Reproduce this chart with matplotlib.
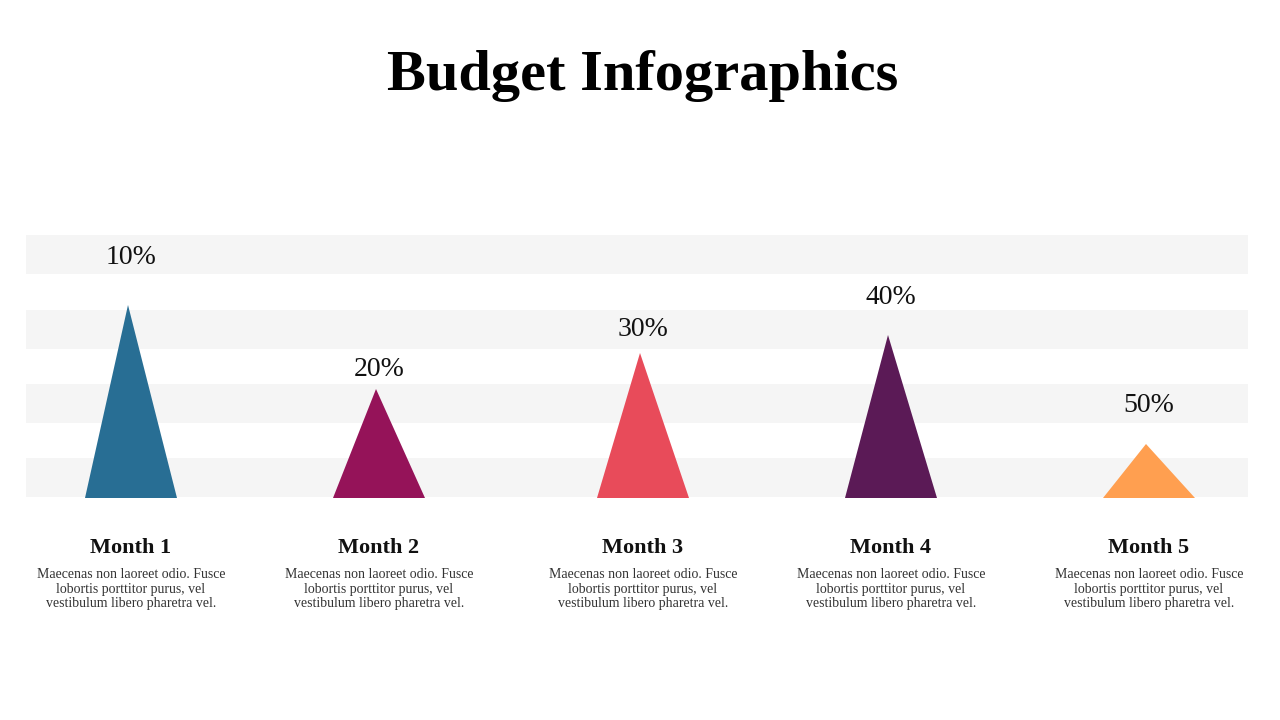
import matplotlib
matplotlib.use("Agg")
import matplotlib.pyplot as plt
from matplotlib.patches import Polygon, Rectangle

# ---- data ----
months = ["Month 1", "Month 2", "Month 3", "Month 4", "Month 5"]
labels = ["10%", "20%", "30%", "40%", "50%"]
heights = [193, 109, 145, 163, 54]          # triangle heights (px units)
label_gap = [50, 22, 25, 40, 40]            # gap of label above apex
colors = ["#286e94", "#951359", "#e84b5a", "#5b1a56", "#ff9f50"]
desc = "Maecenas non laoreet odio. Fusce\nlobortis porttitor purus, vel\nvestibulum libero pharetra vel."
title = "Budget Infographics"

# ---- layout ----
centers = [131, 379, 643, 891, 1149]
base_y = 498
half_w = 46
bands = [(235, 274), (310, 349), (384, 423), (458, 497)]

fig = plt.figure(figsize=(12.8, 7.2), dpi=100)
ax = fig.add_axes([0, 0, 1, 1])
ax.set_xlim(0, 1280)
ax.set_ylim(720, 0)
ax.axis("off")

serif = ["Liberation Serif", "DejaVu Serif"]

for y0, y1 in bands:
    ax.add_patch(Rectangle((26, y0), 1222, y1 - y0, color="#f5f5f5", lw=0, zorder=0))

for c, h, col, lab, g, m in zip(centers, heights, colors, labels, label_gap, months):
    tri = Polygon([(c - half_w, base_y), (c + half_w, base_y), (c - 3, base_y - h)],
                  closed=True, color=col, lw=0, zorder=2)
    ax.add_patch(tri)
    ax.text(c, base_y - h - g + 2, lab, ha="center", va="center", fontsize=20,
            family=serif, color="#111111", zorder=3)
    ax.text(c, 548, m, ha="center", va="center", fontsize=16, fontweight="bold",
            family=serif, color="#111111")
    ax.text(c, 589, desc, ha="center", va="center", fontsize=10,
            family=serif, color="#333333", linespacing=1.15)

ax.text(643, 90, title, ha="center", va="baseline", fontsize=42, fontweight="bold",
        family=serif, color="#000000")

fig.savefig("out.png", dpi=100)
